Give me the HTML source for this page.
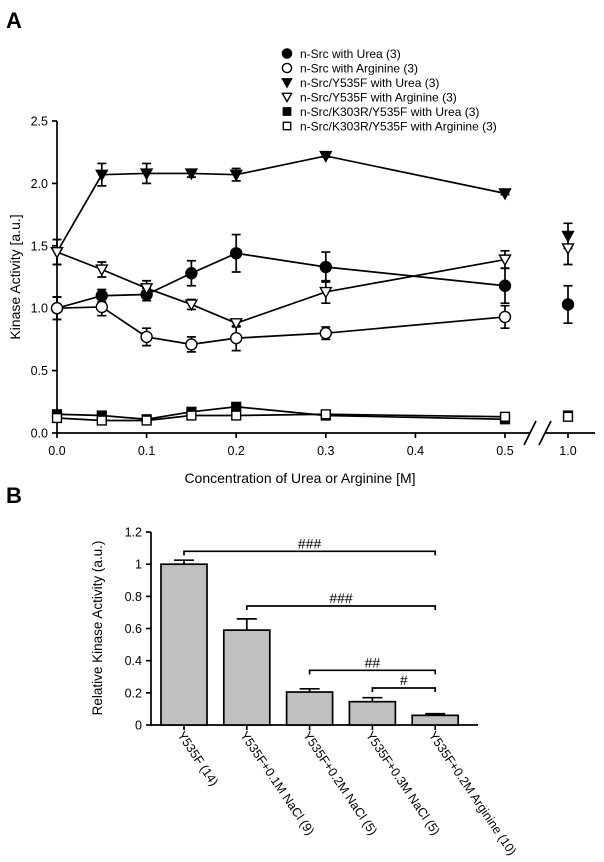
<!DOCTYPE html>
<html><head><meta charset="utf-8"><style>
body{margin:0;background:#fff;}
svg{font-family:"Liberation Sans",Arial,sans-serif;}
</style></head><body>
<svg width="604" height="857" viewBox="0 0 604 857">
<g id="A"></g>
<g id="B"></g>
</svg>
<script>
const xsA = [0, 0.05, 0.1, 0.15, 0.2, 0.3, 0.5, 1.0];
const s1 = [1.0, 1.1, 1.11, 1.28, 1.44, 1.33, 1.18, 1.03];
const e1 = [0.09, 0.05, 0.05, 0.1, 0.15, 0.12, 0.14, 0.15];
const s2 = [1.0, 1.01, 0.77, 0.71, 0.76, 0.80, 0.93, null];
const e2 = [0.09, 0.07, 0.07, 0.06, 0.1, 0.05, 0.09, 0];
const s3 = [1.45, 2.07, 2.08, 2.08, 2.07, 2.22, 1.92, 1.58];
const e3 = [0.1, 0.09, 0.08, 0.03, 0.05, 0.01, 0.01, 0.1];
const s4 = [1.45, 1.31, 1.16, 1.03, 0.88, 1.13, 1.39, 1.48];
const e4 = [0.1, 0.06, 0.06, 0.04, 0.03, 0.09, 0.07, 0.13];
const s5 = [0.15, 0.14, 0.11, 0.17, 0.21, 0.14, 0.11, 0.14];
const s6 = [0.12, 0.10, 0.10, 0.14, 0.14, 0.15, 0.13, 0.13];
const yTicksA = [0, 0.5, 1.0, 1.5, 2.0, 2.5];
const xTicksA = [0, 0.1, 0.2, 0.3, 0.4, 0.5];
const legendLabels = ["n-Src with Urea (3)","n-Src with Arginine (3)","n-Src/Y535F with Urea (3)","n-Src/Y535F with Arginine (3)","n-Src/K303R/Y535F with Urea (3)","n-Src/K303R/Y535F with Arginine (3)"];

const catsB = ["Y535F (14)","Y535F+0.1M NaCl (9)","Y535F+0.2M NaCl (5)","Y535F+0.3M NaCl (5)","Y535F+0.2M Arginine (10)"];
const valsB = [1.0, 0.59, 0.205, 0.145, 0.06];
const errsB = [0.025, 0.07, 0.02, 0.025, 0.01];
const yTicksB = [0, 0.2, 0.4, 0.6, 0.8, 1, 1.2];
const bracketFrom = [0, 1, 2, 3];
const bracketLevel = [1.08, 0.74, 0.34, 0.23];
const bracketLabel = ["###", "###", "##", "#"];

const NS = "http://www.w3.org/2000/svg";
function mk(parent, tag, attrs, text){
  const el = document.createElementNS(NS, tag);
  for (const k in attrs) el.setAttribute(k, attrs[k]);
  if (text !== undefined) el.textContent = text;
  parent.appendChild(el); return el;
}
const LW = 1.7;
const A = document.getElementById('A');
const xA = v => v <= 0.5 ? 57 + v * 896 : 568;
const yA = v => 433 - v * 124.8;

let l = mk(A,'path',{d:'M57,121 V433 H530 M545,433 H595',stroke:'#000','stroke-width':LW,fill:'none'});
 
mk(A,'path',{d:'M524,445 L536,421 M539,445 L551,421',stroke:'#000','stroke-width':LW,fill:'none'});
yTicksA.forEach(t=>{
  mk(A,'line',{x1:52,x2:57,y1:yA(t),y2:yA(t),stroke:'#000','stroke-width':LW});
  const tx = mk(A,'text',{x:48,y:yA(t)+4.5,'text-anchor':'end','font-size':12.5},t.toFixed(1));
   
});
xTicksA.concat([1.0]).forEach(t=>{
  mk(A,'line',{x1:xA(t),x2:xA(t),y1:433,y2:438,stroke:'#000','stroke-width':LW});
  const tx = mk(A,'text',{x:xA(t),y:455,'text-anchor':'middle','font-size':12.5},t.toFixed(1));
   
});
let t1 = mk(A,'text',{x:300,y:483,'text-anchor':'middle','font-size':14},'Concentration of Urea or Arginine [M]');
 
let t2 = mk(A,'text',{x:0,y:0,transform:'translate(20,277) rotate(-90)','text-anchor':'middle','font-size':14},'Kinase Activity [a.u.]');
 
let la = mk(A,'text',{x:6,y:28,'font-size':22,'font-weight':'bold'},'A');
 

function marker(g, type, x, y, s){
  const filled = type%2===0;
  const f = filled ? '#000' : '#fff';
  if (type<2) mk(g,'circle',{cx:x,cy:y,r:s,fill:f,stroke:'#000','stroke-width':1.4});
  else if (type<4) mk(g,'path',{d:`M${x-s},${y-s*0.8} H${x+s} L${x},${y+s} Z`,fill:f,stroke:'#000','stroke-width':1.4});
  else mk(g,'rect',{x:x-s*0.8,y:y-s*0.8,width:s*1.6,height:s*1.6,fill:f,stroke:'#000','stroke-width':1.4});
}
const series = [s1,s2,s3,s4,s5,s6];
const errs = [e1,e2,e3,e4,null,null];
series.forEach((s,i)=>{
  const g = mk(A,'g',{});
   
  let d = '';
  for (let j=0;j<7;j++) if (s[j]!=null) d += (d?'L':'M')+xA(xsA[j])+','+yA(s[j]);
  mk(g,'path',{d:d,stroke:'#000','stroke-width':LW,fill:'none'});
  s.forEach((v,j)=>{
    if (v==null) return;
    if (errs[i] && errs[i][j]>0){
      const x=xA(xsA[j]), a=yA(v+errs[i][j]), b=yA(v-errs[i][j]);
      mk(g,'path',{d:`M${x},${a}V${b}M${x-4.5},${a}h9M${x-4.5},${b}h9`,stroke:'#000','stroke-width':LW,fill:'none'});
    }
  });
  s.forEach((v,j)=>{ if (v!=null) marker(g,i,xA(xsA[j]),yA(v),5.5); });
});
legendLabels.forEach((lab,i)=>{
  const g = mk(A,'g',{});
   
  const y = 53.5 + i*14.5;
  marker(g,i,287,y,4.6);
  mk(g,'text',{x:300,y:y+4.5,'font-size':12},lab);
});

const B = document.getElementById('B');
const xB = i => 184 + i * 62.8;
const yB = v => 725 - v * 160.8;
let lb = mk(B,'text',{x:6,y:503,'font-size':22,'font-weight':'bold'},'B');
 
let ax = mk(B,'path',{d:'M151,532 V725 H478',stroke:'#000','stroke-width':LW,fill:'none'});
 
yTicksB.forEach(t=>{
  mk(B,'line',{x1:146,x2:151,y1:yB(t),y2:yB(t),stroke:'#000','stroke-width':LW});
  const tx = mk(B,'text',{x:142,y:yB(t)+4.5,'text-anchor':'end','font-size':12.5},String(t));
   
});
let t3 = mk(B,'text',{x:0,y:0,transform:'translate(102,628) rotate(-90)','text-anchor':'middle','font-size':13.5},'Relative Kinase Activity (a.u.)');
 
valsB.forEach((v,i)=>{
  const x = xB(i);
  const e = errsB[i];
  const eb = mk(B,'path',{d:`M${x},${yB(v)}V${yB(v+e)}M${x-10},${yB(v+e)}h20`,stroke:'#000','stroke-width':LW,fill:'none'});
   
  const r = mk(B,'rect',{x:x-23,y:yB(v),width:46,height:yB(0)-yB(v),fill:'#c0c0c0',stroke:'#000','stroke-width':LW});
   
  mk(B,'line',{x1:x,x2:x,y1:725,y2:730,stroke:'#000','stroke-width':LW});
  const tx = mk(B,'text',{x:0,y:0,transform:`translate(${x-7},${735}) rotate(56)`,'font-size':12.5},catsB[i]);
   
});
bracketFrom.forEach((f,i)=>{
  const y = yB(bracketLevel[i]);
  const x1 = xB(f), x2 = xB(4);
  const g = mk(B,'g',{});
   
  mk(g,'path',{d:`M${x1},${y+4}V${y}H${x2}V${y+4}`,stroke:'#000','stroke-width':LW,fill:'none'});
  mk(g,'text',{x:(x1+x2)/2,y:y-3,'text-anchor':'middle','font-size':14},bracketLabel[i]);
});
</script>
</body></html>
